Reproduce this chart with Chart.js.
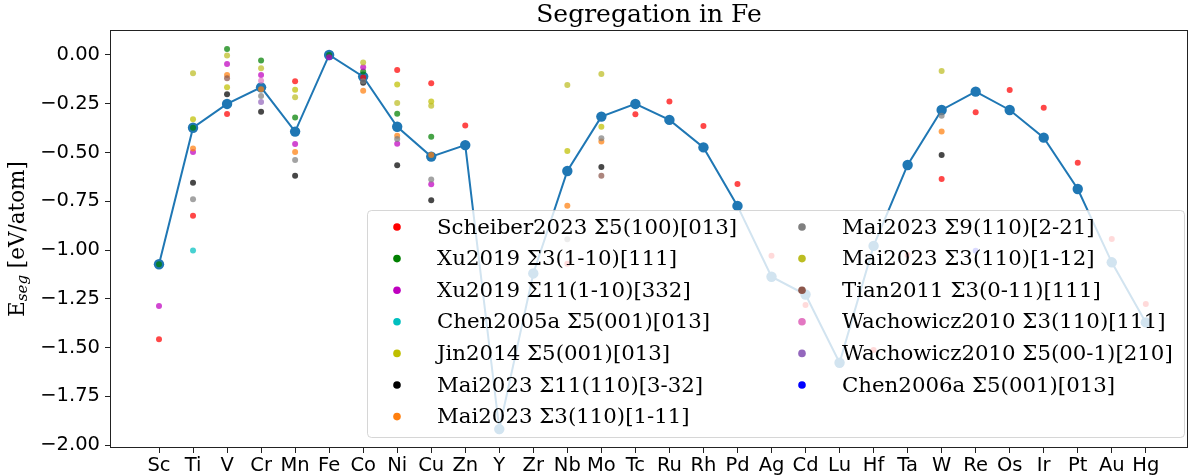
<!DOCTYPE html>
<html>
<head>
<meta charset="utf-8">
<title>Segregation in Fe</title>
<script src="https://cdn.jsdelivr.net/npm/chart.js@4"></script>
<style>
  html, body { margin: 0; padding: 0; background: #fff; }
  #wrap { width: 1198px; height: 476px; }
</style>
</head>
<body>
<div id="wrap"><canvas id="seg-chart" width="1198" height="476"></canvas></div>
<script>
// Segregation energies of solutes at Fe grain boundaries: the blue line is
// the computed value per element, the dots are literature values by source.

const ELEMENTS = ["Sc", "Ti", "V", "Cr", "Mn", "Fe", "Co", "Ni", "Cu", "Zn",
  "Y", "Zr", "Nb", "Mo", "Tc", "Ru", "Rh", "Pd", "Ag", "Cd",
  "Lu", "Hf", "Ta", "W", "Re", "Os", "Ir", "Pt", "Au", "Hg"];

const ESEG = [-1.073, -0.373, -0.251, -0.166, -0.393, 0.0, -0.111, -0.368, -0.521, -0.462,
  -1.918, -1.12, -0.595, -0.316, -0.251, -0.333, -0.474, -0.774, -1.137, -1.228,
  -1.578, -0.979, -0.564, -0.282, -0.188, -0.282, -0.424, -0.687, -1.063, -1.371];

const Y_TICKS = [0, -0.25, -0.5, -0.75, -1.0, -1.25, -1.5, -1.75, -2.0];

// literature values, [element, eV/atom]
const scheiber2023 = [["Sc", -1.458], ["Ti", -0.824], ["V", -0.303], ["Mn", -0.135], ["Co", -0.115],
  ["Ni", -0.077], ["Cu", -0.145], ["Zn", -0.361], ["Nb", -1.07], ["Tc", -0.304], ["Ru", -0.239],
  ["Rh", -0.364], ["Pd", -0.662], ["Ag", -1.029], ["Cd", -1.282], ["Hf", -1.513], ["Ta", -1.026],
  ["W", -0.636], ["Re", -0.294], ["Os", -0.179], ["Ir", -0.27], ["Pt", -0.552], ["Au", -0.944], ["Hg", -1.277]];
const xu2019s3 = [["Sc", -1.073], ["Ti", -0.373], ["V", 0.031], ["Cr", -0.029], ["Mn", -0.32],
  ["Fe", 0.0], ["Co", -0.085], ["Ni", -0.301], ["Cu", -0.419]];
const xu2019s11 = [["Sc", -1.287], ["Ti", -0.497], ["V", -0.046], ["Cr", -0.103], ["Mn", -0.456],
  ["Fe", -0.012], ["Co", -0.063], ["Ni", -0.455], ["Cu", -0.663]];
const chen2005a = [["Ti", -1.002]];
const jin2014 = [["Ti", -0.33], ["V", -0.166], ["Mn", -0.178], ["Ni", -0.152], ["Cu", -0.239],
  ["Nb", -0.492], ["Mo", -0.368]];
const mai2023s11 = [["Ti", -0.655], ["V", -0.202], ["Cr", -0.291], ["Mn", -0.619], ["Co", -0.142],
  ["Ni", -0.566], ["Cu", -0.745], ["Mo", -0.574], ["W", -0.513]];
const mai2023s3a = [["Ti", -0.479], ["V", -0.103], ["Cr", -0.176], ["Mn", -0.497], ["Co", -0.183],
  ["Ni", -0.414], ["Cu", -0.513], ["Nb", -0.773], ["Mo", -0.444], ["W", -0.393]];
const mai2023s9 = [["Ti", -0.74], ["Cr", -0.21], ["Mn", -0.538], ["Co", -0.135], ["Ni", -0.431],
  ["Cu", -0.638], ["Nb", -0.945], ["Mo", -0.427], ["W", -0.311]];
const mai2023s3b = [["Ti", -0.094], ["V", -0.003], ["Cr", -0.068], ["Mn", -0.217], ["Co", -0.038],
  ["Ni", -0.246], ["Cu", -0.26], ["Nb", -0.154], ["Mo", -0.097], ["W", -0.082]];
const tian2011 = [["V", -0.12], ["Mo", -0.619]];
const wachowicz2010s3 = [["Cr", -0.132]];
const wachowicz2010s5 = [["Cr", -0.241]];
const chen2006a = [["Re", -1.004]];

const SOURCES = [
  { label: "Scheiber2023 Σ5(100)[013]", color: "255,0,0", data: scheiber2023 },
  { label: "Xu2019 Σ3(1-10)[111]", color: "0,128,0", data: xu2019s3 },
  { label: "Xu2019 Σ11(1-10)[332]", color: "191,0,191", data: xu2019s11 },
  { label: "Chen2005a Σ5(001)[013]", color: "0,191,191", data: chen2005a },
  { label: "Jin2014 Σ5(001)[013]", color: "191,191,0", data: jin2014 },
  { label: "Mai2023 Σ11(110)[3-32]", color: "0,0,0", data: mai2023s11 },
  { label: "Mai2023 Σ3(110)[1-11]", color: "255,127,14", data: mai2023s3a },
  { label: "Mai2023 Σ9(110)[2-21]", color: "127,127,127", data: mai2023s9 },
  { label: "Mai2023 Σ3(110)[1-12]", color: "188,189,34", data: mai2023s3b },
  { label: "Tian2011 Σ3(0-11)[111]", color: "140,86,75", data: tian2011 },
  { label: "Wachowicz2010 Σ3(110)[111]", color: "227,119,194", data: wachowicz2010s3 },
  { label: "Wachowicz2010 Σ5(00-1)[210]", color: "148,103,189", data: wachowicz2010s5 },
  { label: "Chen2006a Σ5(001)[013]", color: "0,0,255", data: chen2006a },
];

const SERIF = "'DejaVu Serif', 'Liberation Serif', serif";
const SANS = "'DejaVu Sans', sans-serif";
Chart.defaults.font.family = SANS;
Chart.defaults.color = "#000";

const fmtTick = (v) => (v < 0 ? "\u2212" : "") + Math.abs(v).toFixed(2);

// title, frame, y title with subscript, and the boxed two-column legend
const decorations = {
  id: "decorations",
  afterDraw(chart) {
    const { ctx, chartArea: a } = chart;
    ctx.save();

    ctx.fillStyle = "#000";
    ctx.font = `25px ${SERIF}`;
    ctx.textAlign = "center";
    ctx.textBaseline = "middle";
    ctx.fillText("Segregation in Fe", (a.left + a.right) / 2, 15);

    ctx.strokeStyle = "#222";
    ctx.lineWidth = 1;
    ctx.strokeRect(a.left + 0.5, a.top + 0.5, a.right - a.left - 1, a.bottom - a.top - 1);

    // y title: E_seg [eV/atom]
    ctx.translate(18, (a.top + a.bottom) / 2);
    ctx.rotate(-Math.PI / 2);
    ctx.textAlign = "left";
    ctx.textBaseline = "middle";
    const big = `21.5px ${SERIF}`, small = `italic 15px ${SERIF}`;
    ctx.font = big;
    const wE = ctx.measureText("E").width;
    const wRest = ctx.measureText(" [eV/atom]").width;
    ctx.font = small;
    const wSub = ctx.measureText("seg").width;
    let x = -(wE + wSub + wRest) / 2;
    ctx.font = big;
    ctx.fillText("E", x, 0);
    x += wE;
    ctx.font = small;
    ctx.fillText("seg", x, 5);
    x += wSub;
    ctx.font = big;
    ctx.fillText(" [eV/atom]", x, 0);
    ctx.restore();

    ctx.save();
    const bx = a.left + 257, by = a.top + 180, bw = a.right - 4 - bx, bh = a.bottom - 11 - by;
    ctx.beginPath();
    ctx.roundRect(bx + 0.5, by + 0.5, bw, bh, 4);
    ctx.fillStyle = "rgba(255,255,255,0.8)";
    ctx.fill();
    ctx.strokeStyle = "rgba(204,204,204,0.8)";
    ctx.lineWidth = 1;
    ctx.stroke();

    ctx.font = `21.3px ${SERIF}`;
    ctx.textAlign = "left";
    ctx.textBaseline = "middle";
    SOURCES.forEach((s, i) => {
      const col = i < 7 ? 0 : 1;
      const row = i < 7 ? i : i - 7;
      const mx = bx + 30 + col * 405;
      const my = by + 17 + row * 31.6;
      ctx.beginPath();
      ctx.arc(mx, my, 3.8, 0, Math.PI * 2);
      ctx.fillStyle = `rgb(${s.color})`;
      ctx.fill();
      ctx.fillStyle = "#000";
      ctx.fillText(s.label, mx + 40, my + 1);
    });
    ctx.restore();
  },
};

const scatterSets = SOURCES.map((s, i) => ({
  type: "scatter",
  label: s.label,
  data: s.data.map(([el, v]) => ({ x: ELEMENTS.indexOf(el), y: v })),
  backgroundColor: `rgba(${s.color},0.72)`,
  borderWidth: 0,
  pointRadius: 3,
  order: SOURCES.length - i,
}));

new Chart(document.getElementById("seg-chart"), {
  type: "line",
  data: {
    datasets: [
      {
        type: "line",
        label: "Eseg",
        data: ESEG.map((v, i) => ({ x: i, y: v })),
        borderColor: "#1f77b4",
        backgroundColor: "#1f77b4",
        borderWidth: 2,
        pointRadius: 5.2,
        pointBorderWidth: 0,
        tension: 0,
        order: 50,
      },
      ...scatterSets,
    ],
  },
  options: {
    responsive: false,
    animation: false,
    layout: { padding: { top: 30, right: 10, left: 0, bottom: 0 } },
    plugins: { legend: { display: false }, tooltip: { enabled: false } },
    scales: {
      x: {
        type: "linear",
        min: -1.44,
        max: 30.24,
        border: { display: false },
        grid: { drawOnChartArea: false, tickLength: 5, color: "#222" },
        ticks: {
          font: { size: 19.5 },
          color: "#000",
          padding: 1,
          maxRotation: 0,
          autoSkip: false,
          callback: (v) => ELEMENTS[v] ?? "",
        },
        afterBuildTicks: (s) => { s.ticks = ELEMENTS.map((_, i) => ({ value: i })); },
        afterFit: (s) => { s.height = 28; },
      },
      y: {
        min: -2.015,
        max: 0.128,
        border: { display: false },
        grid: { drawOnChartArea: false, tickLength: 5, color: "#222" },
        ticks: { font: { size: 19.5 }, color: "#000", padding: 5, callback: (v) => fmtTick(v) },
        afterBuildTicks: (s) => { s.ticks = Y_TICKS.map((v) => ({ value: v })); },
        afterFit: (s) => { s.width = 110; },
      },
    },
  },
  plugins: [decorations],
});
</script>
</body>
</html>
